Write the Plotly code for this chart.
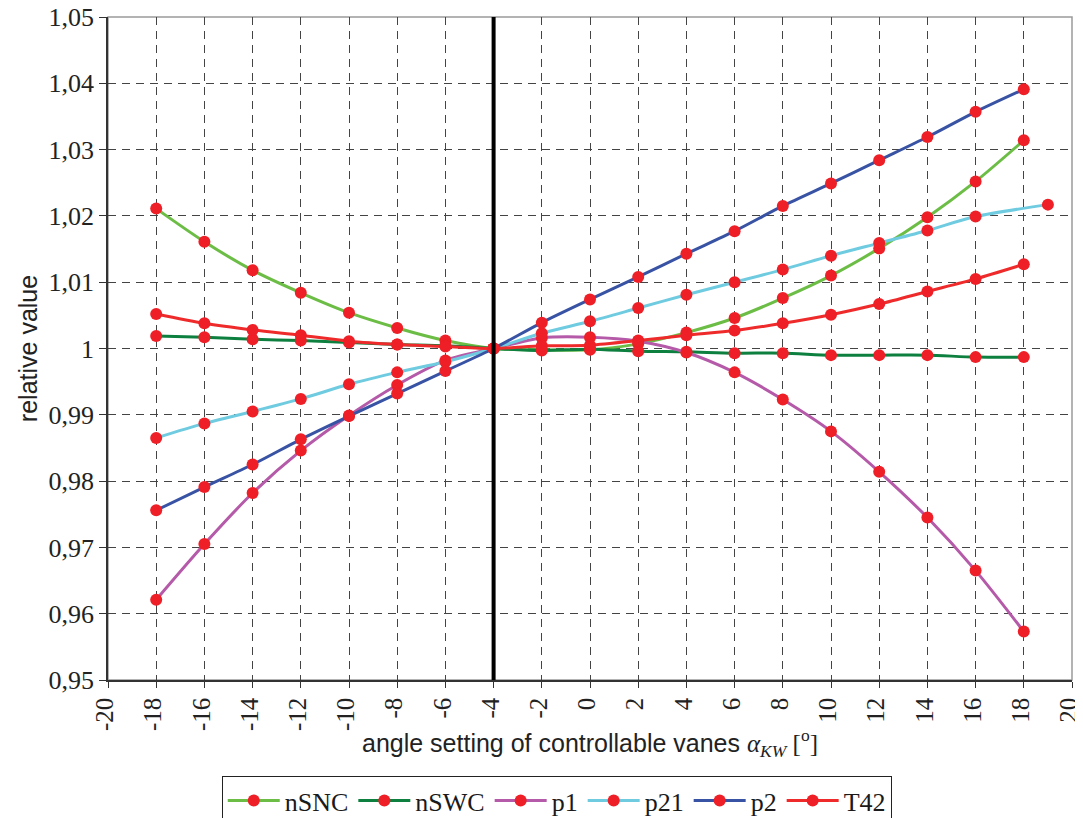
import plotly.graph_objects as go

# ---- data ----
angles = [-18, -16, -14, -12, -10, -8, -6, -4, -2, 0, 2, 4, 6, 8, 10, 12, 14, 16, 18]
angles_p21 = [-18, -16, -14, -12, -10, -8, -6, -4, -2, 0, 2, 4, 6, 8, 10, 12, 14, 16, 19]

nSNC = [1.0211, 1.0161, 1.0118, 1.0084, 1.0054, 1.0031, 1.0012, 1.0000, 0.9998, 0.9998,
        1.0007, 1.0024, 1.0046, 1.0076, 1.0110, 1.0151, 1.0198, 1.0252, 1.0314]
nSWC = [1.0019, 1.0017, 1.0014, 1.0012, 1.0009, 1.0006, 1.0004, 1.0000, 0.9997, 0.9999,
        0.9996, 0.9995, 0.9993, 0.9993, 0.9990, 0.9990, 0.9990, 0.9987, 0.9987]
p1 = [0.9621, 0.9705, 0.9782, 0.9846, 0.9899, 0.9945, 0.9982, 1.0000, 1.0016, 1.0017,
      1.0011, 0.9994, 0.9964, 0.9923, 0.9875, 0.9814, 0.9745, 0.9665, 0.9573]
p21 = [0.9865, 0.9887, 0.9905, 0.9924, 0.9946, 0.9964, 0.9980, 1.0000, 1.0023, 1.0041,
       1.0061, 1.0081, 1.0100, 1.0119, 1.0140, 1.0159, 1.0178, 1.0199, 1.0217]
p2 = [0.9756, 0.9791, 0.9825, 0.9863, 0.9898, 0.9932, 0.9966, 1.0000, 1.0039, 1.0074,
      1.0108, 1.0143, 1.0177, 1.0215, 1.0249, 1.0284, 1.0319, 1.0357, 1.0391]
T42 = [1.0052, 1.0038, 1.0028, 1.0020, 1.0011, 1.0006, 1.0003, 1.0000, 1.0004, 1.0005,
       1.0012, 1.0020, 1.0027, 1.0038, 1.0051, 1.0067, 1.0086, 1.0105, 1.0127]

ref_angle = -4

y_tickvals = [0.95, 0.96, 0.97, 0.98, 0.99, 1.00, 1.01, 1.02, 1.03, 1.04, 1.05]
y_ticktext = ["0,95", "0,96", "0,97", "0,98", "0,99", "1", "1,01", "1,02", "1,03", "1,04", "1,05"]
x_tickvals = list(range(-20, 21, 2))
x_ticktext = [str(v) for v in x_tickvals]

series = [
    ("nSNC", angles, nSNC, "#6cbd45"),
    ("nSWC", angles, nSWC, "#0d7f3f"),
    ("p1", angles, p1, "#b55aa8"),
    ("p21", angles_p21, p21, "#6fcbe0"),
    ("p2", angles, p2, "#3953a4"),
    ("T42", angles, T42, "#ee2a2a"),
]

SERIF = "Liberation Serif, Times New Roman, serif"
SANS = "Liberation Sans, Arial, sans-serif"

fig = go.Figure()
for name, xs, ys, col in series:
    fig.add_trace(go.Scatter(
        x=xs, y=ys, name=name, mode="lines+markers",
        line=dict(color=col, width=3, shape="spline", smoothing=0.8),
        marker=dict(color="#ee1f26", size=12, line=dict(width=0)),
        cliponaxis=False,
    ))

# plot-area frame (top/right light gray)
fig.add_shape(type="rect", xref="paper", yref="paper", x0=0, x1=1, y0=0, y1=1,
              line=dict(color="#9a9a9a", width=1.5), layer="below")
# reference vertical line
fig.add_shape(type="line", xref="x", yref="paper", x0=ref_angle, x1=ref_angle, y0=0, y1=1,
              line=dict(color="black", width=4))

fig.update_layout(
    width=1075, height=810,
    margin=dict(l=100, r=11, t=9, b=138, autoexpand=False),
    paper_bgcolor="white", plot_bgcolor="white",
    showlegend=True,
    legend=dict(
        orientation="h", x=0.118, xanchor="left", y=-0.1448, yanchor="top",
        font=dict(family=SERIF, size=26, color="#1a1a1a"),
        bordercolor="#222", borderwidth=1, bgcolor="white",
        itemwidth=52, tracegroupgap=0,
    ),
    xaxis=dict(
        range=[-20, 20], tickvals=x_tickvals, ticktext=x_ticktext, tickangle=-90,
        tickfont=dict(family=SERIF, size=25, color="#222"),
        showgrid=True, gridcolor="#444", gridwidth=1, griddash="8px,6px",
        showline=True, linecolor="#333", linewidth=1.5,
        ticks="outside", ticklen=6, tickcolor="#333",
        zeroline=False, automargin=False, ticklabeloverflow="allow",
        ticklabelshift=-3,
        title=dict(text="angle setting of controllable vanes <span style='font-family:Liberation Serif'><i>α</i><sub><i>KW</i></sub> [<sup>o</sup>]</span>",
                   font=dict(family=SANS, size=25, color="#222"), standoff=4),
    ),
    yaxis=dict(
        range=[0.95, 1.05], tickvals=y_tickvals, ticktext=y_ticktext,
        tickfont=dict(family=SERIF, size=26, color="#222"),
        showgrid=True, gridcolor="#444", gridwidth=1, griddash="8px,6px",
        showline=True, linecolor="#333", linewidth=1.5,
        ticks="outside", ticklen=7, tickcolor="#333",
        zeroline=False, automargin=False, ticklabeloverflow="allow",
        title=dict(text="relative value", font=dict(family=SANS, size=25, color="#222"), standoff=4),
    ),
)

fig.write_html("out.html")
